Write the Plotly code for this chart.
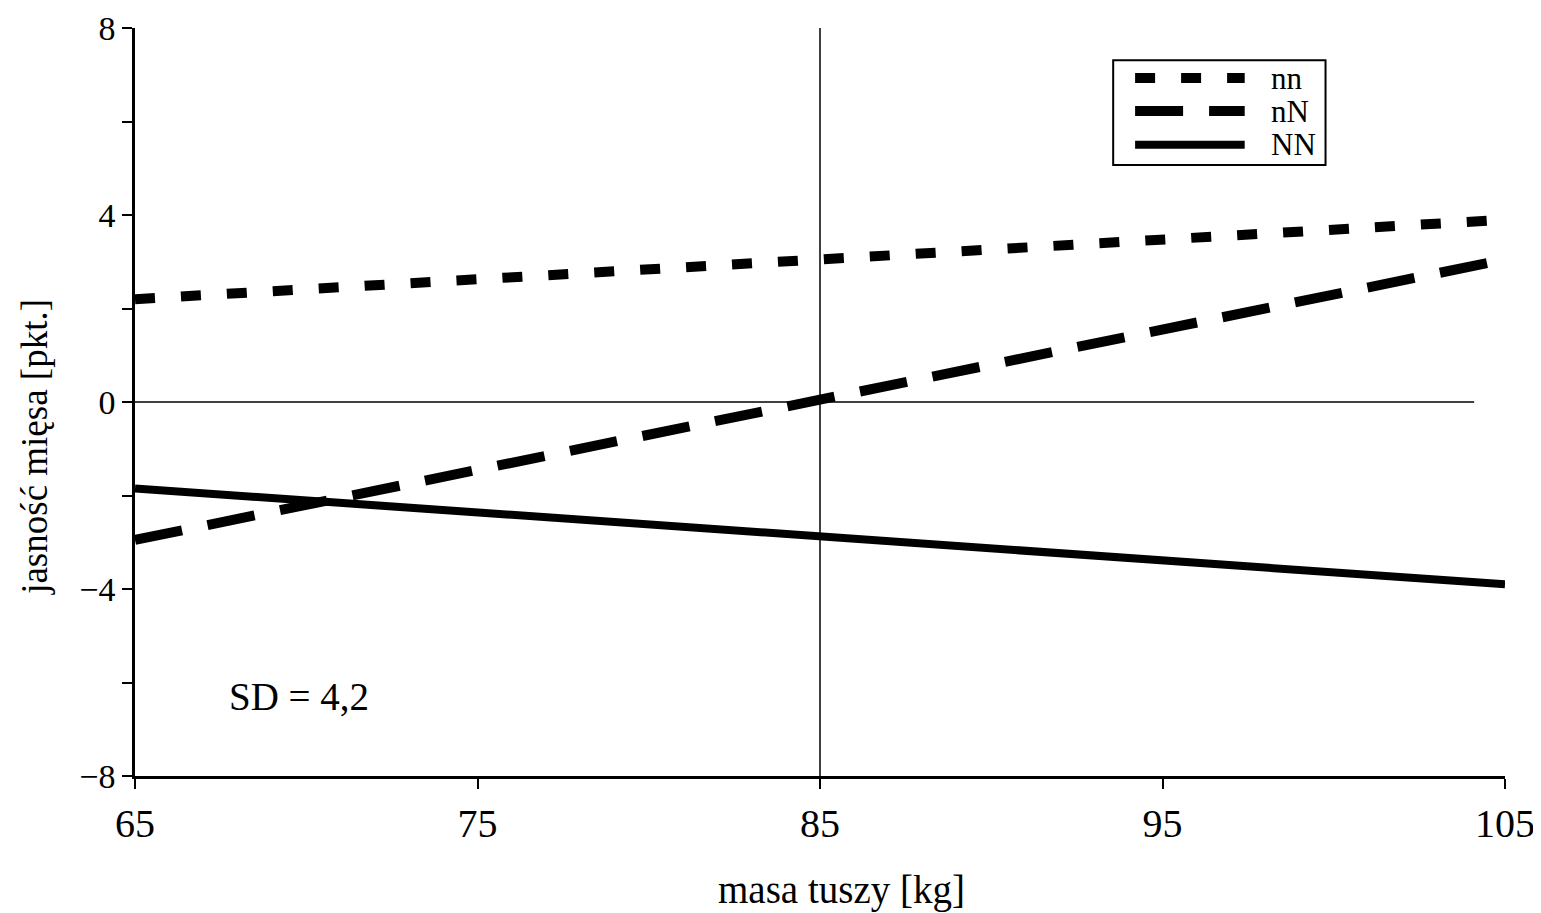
import plotly.graph_objects as go

# ---- data ----
mass = [65, 105]
nn_vals = [2.2, 3.9]
nN_vals = [-2.95, 3.05]
NN_vals = [-1.85, -3.9]
series_names = ["nn", "nN", "NN"]

x_ticks = [65, 75, 85, 95, 105]
y_ticks = [-8, -4, 0, 4, 8]

zero_line_x = [65, 104.1]
zero_line_y = [0, 0]
vline_x = [85, 85]
vline_y = [-8, 8]

sd_text = "SD = 4,2"
x_title = "masa tuszy [kg]"
y_title = "jasność mięsa [pkt.]"

FONT = "Liberation Serif"

styles = {
    "nn": dict(color="black", width=10, dash="20px,26px"),
    "nN": dict(color="black", width=10, dash="48px,26px"),
    "NN": dict(color="black", width=8, dash="solid"),
}

fig = go.Figure()

# reference lines
fig.add_trace(go.Scatter(x=zero_line_x, y=zero_line_y, mode="lines",
                         line=dict(color="black", width=1.5), showlegend=False, hoverinfo="skip"))
fig.add_trace(go.Scatter(x=vline_x, y=vline_y, mode="lines",
                         line=dict(color="black", width=1.5), showlegend=False, hoverinfo="skip"))

for name, vals in zip(series_names, [nn_vals, nN_vals, NN_vals]):
    fig.add_trace(go.Scatter(x=mass, y=vals, mode="lines", name=name,
                             line=styles[name], showlegend=False))

# manual legend (box + samples + labels) in paper coordinates
fig.add_shape(type="rect", xref="paper", yref="paper", x0=0.714, x1=0.869, y0=0.817, y1=0.957,
              line=dict(color="black", width=2), fillcolor="white", layer="above")
leg_y = [0.933, 0.889, 0.844]
for name, ly in zip(series_names, leg_y):
    st = styles[name]
    fig.add_shape(type="line", xref="paper", yref="paper", x0=0.730, x1=0.810, y0=ly, y1=ly,
                  line=dict(color="black", width=st["width"], dash=st["dash"]), layer="above")
    fig.add_annotation(xref="paper", yref="paper", x=0.828, y=ly, text=name, showarrow=False,
                       xanchor="left", yanchor="middle", font=dict(family=FONT, size=31, color="black"))

fig.add_annotation(x=69.8, y=-6.3, text=sd_text, showarrow=False,
                   font=dict(family=FONT, size=39, color="black"))

fig.add_annotation(xref="paper", yref="paper", x=0.516, y=-0.152, text=x_title, showarrow=False,
                   xanchor="center", yanchor="middle", font=dict(family=FONT, size=39, color="black"))
fig.add_annotation(xref="paper", yref="paper", x=-0.073, y=0.44, text=y_title, showarrow=False,
                   textangle=-90, xanchor="center", yanchor="middle",
                   font=dict(family=FONT, size=37, color="black"))

fig.update_layout(
    width=1533, height=905,
    margin=dict(l=127, r=36, t=20, b=137, autoexpand=False),
    paper_bgcolor="white", plot_bgcolor="white",
    font=dict(family=FONT, color="black"),
    showlegend=False,
    xaxis=dict(range=[65, 105], tickvals=x_ticks, showgrid=False, zeroline=False, automargin=False,
               showline=True, linecolor="black", linewidth=2.5, ticklabeloverflow="allow",
               ticks="outside", ticklen=10, tickwidth=2, tickcolor="black",
               tickfont=dict(family=FONT, size=40, color="black")),
    yaxis=dict(range=[-8, 8], tickvals=y_ticks, ticktext=["\u22128", "\u22124", "0", "4", "8"],
               showgrid=False, zeroline=False, automargin=False, ticklabeloverflow="allow",
               showline=True, linecolor="black", linewidth=2.5,
               ticks="outside", ticklen=10, tickwidth=2, tickcolor="black",
               tickfont=dict(family=FONT, size=34, color="black"),
               minor=dict(ticks="outside", dtick=2, tick0=0, ticklen=10, tickwidth=2, tickcolor="black",
                          showgrid=False)),
)

fig.write_html("out.html")
